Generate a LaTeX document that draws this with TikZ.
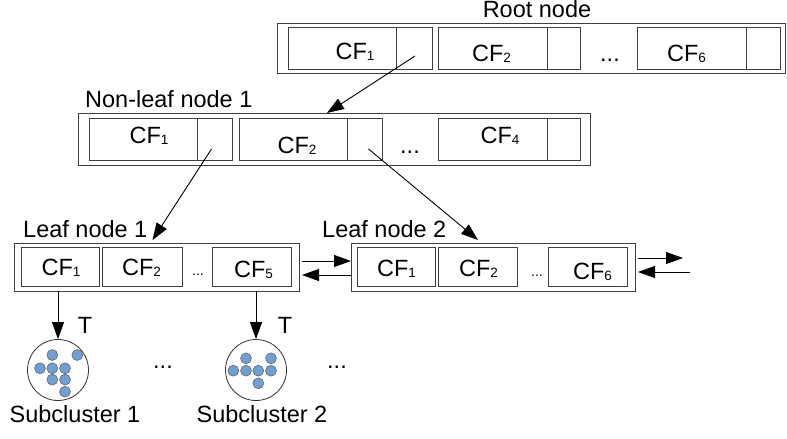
\documentclass[tikz,border=0pt]{standalone}
\usepackage{fontspec}
\setmainfont{Liberation Sans}
\usetikzlibrary{arrows.meta}
\definecolor{dotblue}{HTML}{729FCF}
\newcommand\cfsub[1]{CF{\fontsize{13.5}{13.5}\selectfont\raisebox{-1pt}{#1}}}
\begin{document}
\begin{tikzpicture}[x=1pt,y=-1pt,
  box/.style={draw=black!75, line width=0.9pt, inner sep=0pt, outer sep=0pt},
  txt/.style={font=\fontsize{23.5}{25}\selectfont, inner sep=0pt, anchor=base},
  sdots/.style={font=\fontsize{14}{14}\selectfont, inner sep=0pt, anchor=base},
  arr/.style={line width=0.9pt, -{Triangle[length=17pt,width=12pt]}},
  pt/.style={circle, draw=black!70, fill=dotblue, minimum size=11pt, inner sep=0pt, line width=0.4pt},
  clus/.style={circle, draw=black!80, line width=0.8pt, minimum size=61pt, inner sep=0pt}
]
\useasboundingbox (0,0) rectangle (787,439);

% ---------- Root node ----------
\node[box, minimum width=508pt, minimum height=50pt] (root) at (531,48) {};
\node[box, minimum width=108pt, minimum height=42pt] (r1a) at (342,48) {};
\node[box, minimum width=36pt, minimum height=42pt] (r1b) at (414,48) {};
\node[box, minimum width=109pt, minimum height=42pt] (r2a) at (492.5,48) {};
\node[box, minimum width=33pt, minimum height=42pt] (r2b) at (563.5,48) {};
\node[box, minimum width=109pt, minimum height=42pt] (r3a) at (691.5,48) {};
\node[box, minimum width=34pt, minimum height=42pt] (r3b) at (763,48) {};
\node[txt] (rlab) at (537,17.5) {Root node};
\node[txt] (rt1) at (355,59.5) {\cfsub{1}};
\node[txt] (rt2) at (491.5,61) {\cfsub{2}};
\node[txt] (rdots) at (610,61) {...};
\node[txt] (rt3) at (686.5,61) {\cfsub{6}};

% ---------- Non-leaf node ----------
\node[box, minimum width=512pt, minimum height=52pt] (nl) at (334,139) {};
\node[box, minimum width=108pt, minimum height=42pt] (n1a) at (143,139) {};
\node[box, minimum width=35pt, minimum height=42pt] (n1b) at (214.5,139) {};
\node[box, minimum width=108pt, minimum height=42pt] (n2a) at (293,139) {};
\node[box, minimum width=35pt, minimum height=42pt] (n2b) at (364.5,139) {};
\node[box, minimum width=109pt, minimum height=42pt] (n3a) at (492.5,139) {};
\node[box, minimum width=33pt, minimum height=42pt] (n3b) at (563.5,139) {};
\node[txt, anchor=base west] (nlab) at (85,107) {Non-leaf node 1};
\node[txt] (nt1) at (149,143.5) {\cfsub{1}};
\node[txt] (nt2) at (297,153) {\cfsub{2}};
\node[txt] (ndots) at (410,153) {...};
\node[txt] (nt3) at (500,143.5) {\cfsub{4}};

% ---------- Leaf node 1 ----------
\node[box, minimum width=285pt, minimum height=48pt] (l1) at (156.5,267) {};
\node[box, minimum width=78pt, minimum height=39pt] (l1a) at (60,266.5) {};
\node[box, minimum width=80pt, minimum height=39pt] (l1b) at (142,266.5) {};
\node[box, minimum width=79pt, minimum height=39pt] (l1c) at (251.5,266.5) {};
\node[txt, anchor=base west] (l1lab) at (23,237) {Leaf node 1};
\node[txt] (l1t1) at (61,275.5) {\cfsub{1}};
\node[txt] (l1t2) at (141.5,275.5) {\cfsub{2}};
\node[sdots] (l1dots) at (198,275) {...};
\node[txt] (l1t3) at (253.5,277) {\cfsub{5}};

% ---------- Leaf node 2 ----------
\node[box, minimum width=284pt, minimum height=48pt] (l2) at (493,267) {};
\node[box, minimum width=78pt, minimum height=39pt] (l2a) at (396,266.5) {};
\node[box, minimum width=79pt, minimum height=39pt] (l2b) at (477.5,266.5) {};
\node[box, minimum width=79pt, minimum height=39pt] (l2c) at (587.5,266.5) {};
\node[txt, anchor=base west] (l2lab) at (322,237) {Leaf node 2};
\node[txt] (l2t1) at (396.5,276.5) {\cfsub{1}};
\node[txt] (l2t2) at (478.5,276.5) {\cfsub{2}};
\node[sdots] (l2dots) at (537,276) {...};
\node[txt] (l2t3) at (592.5,279.5) {\cfsub{6}};

% ---------- tree arrows ----------
\draw[arr] ([xshift=1pt,yshift=-8pt]r1b.center) -- ([xshift=-7pt]nl.north);
\draw[arr] ([xshift=-3pt,yshift=-10pt]n1b.center) -- ([xshift=-4pt,yshift=3pt]l1.north);
\draw[arr] ([xshift=4pt,yshift=-10pt]n2b.center) -- ([xshift=-15pt,yshift=3pt]l2.north);

% ---------- sibling links ----------
\coordinate (o1) at (683,258);
\coordinate (i1) at (690,272);
\draw[arr] ([xshift=3pt,yshift=6pt]l1.east) -- ([yshift=6pt]l2.west);
\draw[arr] ([yshift=-8pt]l2.west) -- ([xshift=3pt,yshift=-8pt]l1.east);
\draw[arr] ([xshift=3pt]l2.east |- o1) -- (o1);
\draw[arr] (i1) -- ([xshift=3pt]l2.east |- i1);

% ---------- subclusters ----------
\node[clus] (c1) at (58,370) {};
\node[clus] (c2) at (256,370) {};
\draw[arr] (l1.south -| c1) -- (c1.north);
\draw[arr] (l1.south -| c2) -- (c2.north);
\node[txt] (t1) at (85,333) {T};
\node[txt] (t2) at (285,333) {T};
\node[txt] (cd1) at (163,368) {...};
\node[txt] (cd2) at (337,368) {...};
\node[txt] (s1) at (75,422) {Subcluster 1};
\node[txt] (s2) at (262,422) {Subcluster 2};

\foreach \i/\px/\py in {1/52.3/355,2/77.3/355,3/40/368.3,4/52.3/368.3,5/65/368.3,6/52.3/379.6,7/65/379.6,8/65/391.7}
  \node[pt] (pa\i) at (\px,\py) {};
\foreach \i/\px/\py in {1/246/358.3,2/271/358.3,3/233.3/370.7,4/246/370.7,5/258.3/370.7,6/271/370.7,7/258.3/383.3}
  \node[pt] (pb\i) at (\px,\py) {};
\end{tikzpicture}
\end{document}
